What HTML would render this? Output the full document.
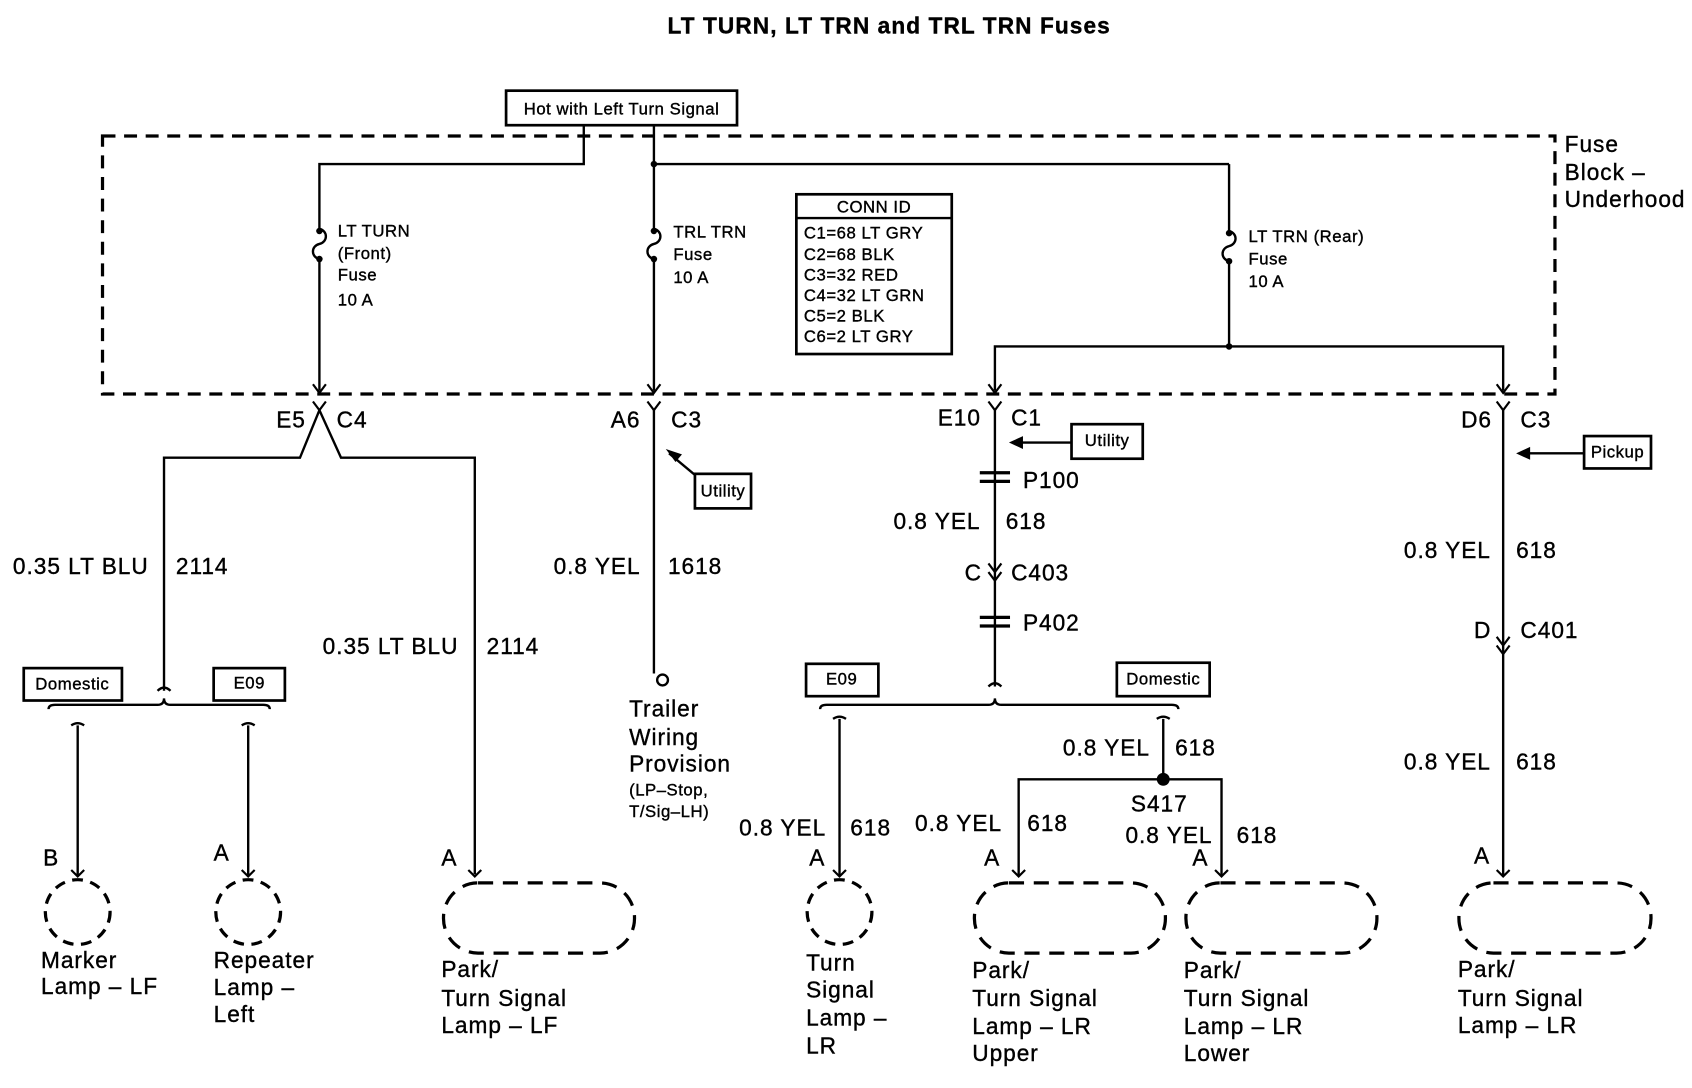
<!DOCTYPE html>
<html><head><meta charset="utf-8"><style>
html,body{margin:0;padding:0;background:#fff}
svg{display:block}
text{font-family:"Liberation Sans",sans-serif;fill:#000;stroke:#000;stroke-width:0.35}
.b{font-size:21px;letter-spacing:0.9px}.s{font-size:15.5px;letter-spacing:0.5px}
</style></head><body>
<svg width="1692" height="1088" viewBox="0 0 1568 1008" preserveAspectRatio="none" xmlns="http://www.w3.org/2000/svg">
<g stroke="#000" stroke-width="2.2" fill="none">
<rect x="95" y="126" width="1346" height="239" stroke-width="3" stroke-dasharray="12 8"/>
<rect x="469" y="84" width="214" height="32" stroke-width="2.5"/>
<rect x="738" y="180" width="144" height="148" stroke-width="2.5"/>
<line x1="738" y1="202" x2="882" y2="202"/>
<polyline points="541,116 541,152 296,152 296,212"/>
<path d="M296,212 c8,2 8,12 0,14 c-8,2 -8,12 0,14"/>
<line x1="296" y1="240" x2="296" y2="362"/>
<polyline points="606,116 606,212"/>
<line x1="606" y1="152" x2="1139" y2="152"/>
<path d="M606,212 c8,2 8,12 0,14 c-8,2 -8,12 0,14"/>
<line x1="606" y1="240" x2="606" y2="362"/>
<line x1="1139" y1="152" x2="1139" y2="214"/>
<path d="M1139,214 c8,2 8,12 0,14 c-8,2 -8,12 0,14"/>
<polyline points="1139,242 1139,321"/>
<polyline points="922,362 922,321 1393,321 1393,362"/>
<g stroke-width="2">
<polyline points="290,356 296,364 302,356"/><polyline points="600,356 606,364 612,356"/>
<polyline points="916,356 922,364 928,356"/><polyline points="1387,356 1393,364 1399,356"/>
<polyline points="290,372 296,380 302,372"/><polyline points="600,372 606,380 612,372"/>
<polyline points="916,372 922,380 928,372"/><polyline points="1387,372 1393,380 1399,372"/>
</g>
<polyline points="296,380 278,424 152,424 152,640"/>
<polyline points="296,380 316,424 440,424 440,810"/>
<path d="M146,640 q6,-6 12,0"/>
<path d="M45,657 q0,-4 6,-4 L146,653 q6,0 6,-6 q0,6 6,6 L244,653 q6,0 6,4"/>
<path d="M66,672 q6,-4 12,0 M72,672 L72,812"/>
<path d="M224,672 q6,-4 12,0 M230,672 L230,812"/>
<circle cx="72" cy="845" r="30" stroke-width="3" stroke-dasharray="10 7"/>
<circle cx="230" cy="845" r="30" stroke-width="3" stroke-dasharray="10 7"/>
<rect x="22" y="619" width="91" height="30" stroke-width="2.5"/>
<rect x="198" y="619" width="66" height="30" stroke-width="2.5"/>
<rect x="411" y="818" width="177" height="65" rx="32" stroke-width="3" stroke-dasharray="14 9"/>
<line x1="606" y1="380" x2="606" y2="624"/>
<circle cx="614" cy="630" r="5"/>
<rect x="644" y="439" width="52" height="32" stroke-width="2.5"/>
<line x1="644" y1="440" x2="620" y2="420"/>
<line x1="922" y1="380" x2="922" y2="636"/>
<rect x="993" y="393" width="66" height="32" stroke-width="2.5"/>
<line x1="993" y1="410" x2="940" y2="410"/>
<g stroke-width="3"><line x1="908" y1="438" x2="936" y2="438"/><line x1="908" y1="446" x2="936" y2="446"/>
<line x1="908" y1="572" x2="936" y2="572"/><line x1="908" y1="580" x2="936" y2="580"/></g>
<g stroke-width="2"><polyline points="916,522 922,530 928,522"/><polyline points="916,530 922,538 928,530"/></g>
<path d="M916,636 q6,-6 12,0"/>
<path d="M760,657 q0,-4 6,-4 L916,653 q6,0 6,-6 q0,6 6,6 L1086,653 q6,0 6,4"/>
<rect x="747" y="615" width="67" height="30" stroke-width="2.5"/>
<rect x="1035" y="614" width="86" height="31" stroke-width="2.5"/>
<path d="M772,666 q6,-4 12,0 M778,666 L778,812"/>
<circle cx="778" cy="845" r="30" stroke-width="3" stroke-dasharray="10 7"/>
<path d="M1072,666 q6,-4 12,0 M1078,666 L1078,722"/>
<polyline points="944,812 944,722 1132,722 1132,812"/>
<rect x="903" y="818" width="177" height="65" rx="32" stroke-width="3" stroke-dasharray="14 9"/>
<rect x="1099" y="818" width="177" height="65" rx="32" stroke-width="3" stroke-dasharray="14 9"/>
<line x1="1393" y1="380" x2="1393" y2="812"/>
<rect x="1468" y="404" width="62" height="30" stroke-width="2.5"/>
<line x1="1468" y1="420" x2="1410" y2="420"/>
<g stroke-width="2"><polyline points="1387,590 1393,598 1399,590"/><polyline points="1387,598 1393,606 1399,598"/></g>
<rect x="1352" y="818" width="178" height="65" rx="32" stroke-width="3" stroke-dasharray="14 9"/>
<g stroke-width="2">
<polyline points="66,806 72,812 78,806"/><polyline points="224,806 230,812 236,806"/><polyline points="434,806 440,812 446,806"/>
<polyline points="772,806 778,812 784,806"/><polyline points="938,806 944,812 950,806"/><polyline points="1126,806 1132,812 1138,806"/><polyline points="1387,806 1393,812 1399,806"/>
</g>
</g>
<g fill="#000">
<circle cx="606" cy="152" r="3"/><circle cx="1139" cy="321" r="3"/><circle cx="1078" cy="722" r="6"/>
<circle cx="296" cy="214" r="3"/><circle cx="296" cy="240" r="3"/><circle cx="606" cy="214" r="3"/><circle cx="606" cy="240" r="3"/><circle cx="1139" cy="216" r="3"/><circle cx="1139" cy="242" r="3"/>
<polygon points="617,416 632,421 626,428"/>
<polygon points="935,410 948,404 948,416"/>
<polygon points="1405,420 1418,414 1418,426"/>
</g>
<text x="824" y="31" text-anchor="middle" style="font-size:21px;font-weight:bold;letter-spacing:1px">LT TURN, LT TRN and TRL TRN Fuses</text>
<text x="576" y="106" text-anchor="middle" class="s">Hot with Left Turn Signal</text>
<text class="b" x="1450" y="141">Fuse</text><text class="b" x="1450" y="167">Block –</text><text class="b" x="1450" y="192">Underhood</text>
<g class="s">
<text x="313" y="219">LT TURN</text><text x="313" y="240">(Front)</text><text x="313" y="260">Fuse</text><text x="313" y="283">10 A</text>
<text x="624" y="220">TRL TRN</text><text x="624" y="241">Fuse</text><text x="624" y="262">10 A</text>
<text x="1157" y="224">LT TRN (Rear)</text><text x="1157" y="245">Fuse</text><text x="1157" y="266">10 A</text>
<text x="810" y="197" text-anchor="middle">CONN ID</text>
<text x="745" y="221">C1=68 LT GRY</text><text x="745" y="241">C2=68 BLK</text><text x="745" y="260">C3=32 RED</text><text x="745" y="279">C4=32 LT GRN</text><text x="745" y="298">C5=2 BLK</text><text x="745" y="317">C6=2 LT GRY</text>
<text x="67" y="639" text-anchor="middle">Domestic</text><text x="231" y="638" text-anchor="middle">E09</text>
<text x="670" y="460" text-anchor="middle">Utility</text><text x="1026" y="413" text-anchor="middle">Utility</text><text x="1499" y="424" text-anchor="middle">Pickup</text>
<text x="780" y="634" text-anchor="middle">E09</text><text x="1078" y="634" text-anchor="middle">Domestic</text>
<text x="583" y="737">(LP–Stop,</text><text x="583" y="757">T/Sig–LH)</text>
</g>
<g class="b">
<text x="256" y="396">E5</text><text x="312" y="396">C4</text>
<text x="566" y="396">A6</text><text x="622" y="396">C3</text>
<text x="869" y="394">E10</text><text x="937" y="394">C1</text>
<text x="1354" y="396">D6</text><text x="1409" y="396">C3</text>
<text x="12" y="532">0.35 LT BLU</text><text x="163" y="532">2114</text>
<text x="299" y="606">0.35 LT BLU</text><text x="451" y="606">2114</text>
<text x="513" y="532">0.8 YEL</text><text x="619" y="532">1618</text>
<text x="583" y="664">Trailer</text><text x="583" y="690">Wiring</text><text x="583" y="715">Provision</text>
<text x="948" y="452">P100</text>
<text x="828" y="490">0.8 YEL</text><text x="932" y="490">618</text>
<text x="894" y="538">C</text><text x="937" y="538">C403</text>
<text x="948" y="584">P402</text>
<text x="1301" y="517">0.8 YEL</text><text x="1405" y="517">618</text>
<text x="1366" y="591">D</text><text x="1409" y="591">C401</text>
<text x="1301" y="713">0.8 YEL</text><text x="1405" y="713">618</text>
<text x="985" y="700">0.8 YEL</text><text x="1089" y="700">618</text>
<text x="1048" y="752">S417</text>
<text x="685" y="774">0.8 YEL</text><text x="788" y="774">618</text>
<text x="848" y="770">0.8 YEL</text><text x="952" y="770">618</text>
<text x="1043" y="781">0.8 YEL</text><text x="1146" y="781">618</text>
<text x="40" y="802">B</text><text x="198" y="797">A</text><text x="409" y="802">A</text>
<text x="750" y="802">A</text><text x="912" y="802">A</text><text x="1105" y="802">A</text><text x="1366" y="800">A</text>
<text x="38" y="897">Marker</text><text x="38" y="921">Lamp – LF</text>
<text x="198" y="897">Repeater</text><text x="198" y="922">Lamp –</text><text x="198" y="947">Left</text>
<text x="409" y="905">Park/</text><text x="409" y="932">Turn Signal</text><text x="409" y="957">Lamp – LF</text>
<text x="747" y="899">Turn</text><text x="747" y="924">Signal</text><text x="747" y="950">Lamp –</text><text x="747" y="976">LR</text>
<text x="901" y="906">Park/</text><text x="901" y="932">Turn Signal</text><text x="901" y="958">Lamp – LR</text><text x="901" y="983">Upper</text>
<text x="1097" y="906">Park/</text><text x="1097" y="932">Turn Signal</text><text x="1097" y="958">Lamp – LR</text><text x="1097" y="983">Lower</text>
<text x="1351" y="905">Park/</text><text x="1351" y="932">Turn Signal</text><text x="1351" y="957">Lamp – LR</text>
</g>
</svg>
</body></html>
